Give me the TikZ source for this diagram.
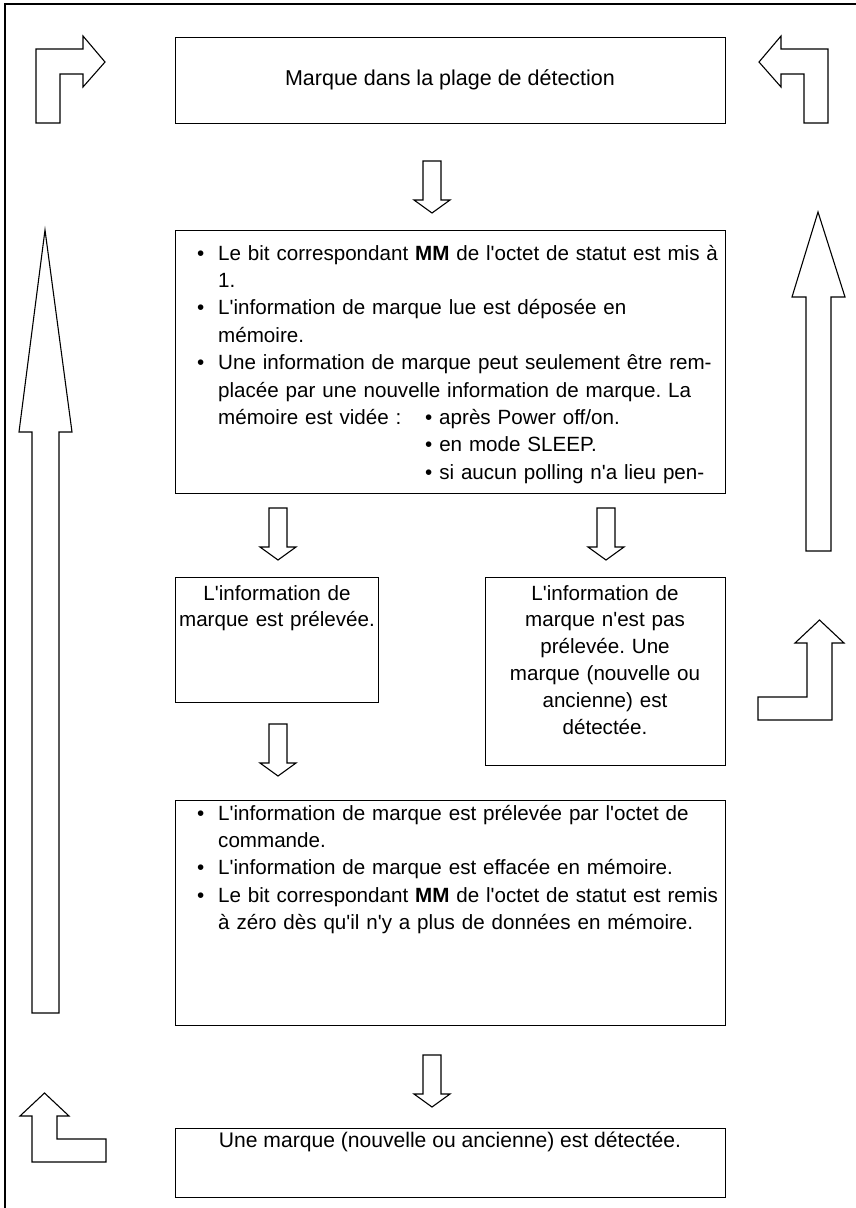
\documentclass[tikz,border=0pt]{standalone}
\usepackage{fontspec}
\setmainfont{Liberation Sans}[Ligatures=TeXOff]
\usetikzlibrary{calc}

\tikzset{
  box/.style={draw=black, line width=1.3pt, rectangle, inner sep=0pt, anchor=north west},
  frameline/.style={line width=2.6pt, black},
  blockarrow/.style={draw=black, line width=1.1pt, fill=white, line join=miter},
  txt/.style={inner sep=0pt, font=\fontsize{20.6}{27.4}\selectfont},
  ctxt/.style={inner sep=0pt, align=center, font=\fontsize{20.6}{26.8}\selectfont},
  downarrow/.pic={\draw[blockarrow] (-9,0) -- (9,0) -- (9,39) -- (18,39) -- (0,52) -- (-18,39) -- (-9,39) -- cycle;}
}
\newcommand{\bul}{\makebox[21pt][l]{•}}
\newcommand{\ind}{\hspace*{21pt}}

\begin{document}
\frenchspacing
\begin{tikzpicture}[x=1pt,y=-1pt]
\useasboundingbox (0,0) rectangle (856,1208);

% frame: top and left edges only
\draw[frameline] (5,1208) -- (5,4) -- (856,4);

% boxes
\node[box, minimum width=550pt, minimum height=86pt]  (top)  at (175,37)   {};
\node[box, minimum width=550pt, minimum height=263pt] (set)  at (175,230)  {};
\node[box, minimum width=203pt, minimum height=125pt] (took) at (175,577)  {};
\node[box, minimum width=240pt, minimum height=188pt] (kept) at (485,577)  {};
\node[box, minimum width=550pt, minimum height=225pt] (clr)  at (175,800)  {};
\node[box, minimum width=550pt, minimum height=69pt]  (det)  at (175,1128) {};

% texts
\node[inner sep=0pt, anchor=base, font=\fontsize{21.5}{26}\selectfont] (ttop) at (450,85)
  {Marque dans la plage de détection};

\node[txt, anchor=base west, text width=540pt, align=left] (tset) at (197,260)
  {\bul Le bit correspondant \textbf{MM} de l'octet de statut est mis à\\
   \ind 1.\\
   \bul L'information de marque lue est déposée en\\
   \ind mémoire.\\
   \bul Une information de marque peut seulement être rem-\\
   \ind placée par une nouvelle information de marque. La\\
   \ind\makebox[207pt][l]{mémoire est vidée :}• après Power off/on.\\
   \hspace*{228pt}• en mode SLEEP.\\
   \hspace*{228pt}• si aucun polling n'a lieu pen-};

\node[ctxt, anchor=base, text width=260pt] (ttook) at (277,600)
  {L'information de\\ marque est prélevée.};

\node[ctxt, anchor=base, text width=260pt] (tkept) at (605,600)
  {L'information de\\ marque n'est pas\\ prélevée. Une\\ marque (nouvelle ou\\ ancienne) est\\ détectée.};

\node[txt, anchor=base west, text width=540pt, align=left] (tclr) at (197,820)
  {\bul L'information de marque est prélevée par l'octet de\\
   \ind commande.\\
   \bul L'information de marque est effacée en mémoire.\\
   \bul Le bit correspondant \textbf{MM} de l'octet de statut est remis\\
   \ind à zéro dès qu'il n'y a plus de données en mémoire.};

\node[inner sep=0pt, anchor=base, font=\fontsize{21.1}{26}\selectfont] (tdet) at (450,1147)
  {Une marque (nouvelle ou ancienne) est détectée.};

% small down arrows between the boxes
\coordinate (a1) at (432,161);
\coordinate (a2) at (278,508);
\coordinate (a3) at (606,508);
\coordinate (a4) at (278,724);
\coordinate (a5) at (432,1055);
\foreach \c in {a1,a2,a3,a4,a5} \pic at (\c) {downarrow};

% long return arrows
\draw[blockarrow] (45,230) -- (72,432) -- (59,432) -- (59,1013) -- (32,1013) -- (32,432) -- (19,432) -- cycle;
\draw[blockarrow] (818,212) -- (845,297) -- (831,297) -- (831,551) -- (806,551) -- (806,297) -- (792,297) -- cycle;

% bent arrows in the corners
\draw[blockarrow] (36,123) -- (36,49) -- (83,49) -- (83,36) -- (105,62) -- (83,87) -- (83,74) -- (60,74) -- (60,123) -- cycle;
\draw[blockarrow] (828,123) -- (828,49) -- (781,49) -- (781,36) -- (759,62) -- (781,87) -- (781,74) -- (804,74) -- (804,123) -- cycle;
\draw[blockarrow] (44.5,1093) -- (69,1116) -- (57,1116) -- (57,1139) -- (106,1139) -- (106,1162) -- (32,1162) -- (32,1116) -- (20,1116) -- cycle;
\draw[blockarrow] (819.5,620) -- (844,643) -- (832,643) -- (832,720) -- (758,720) -- (758,697) -- (807,697) -- (807,643) -- (795,643) -- cycle;
\end{tikzpicture}
\end{document}
